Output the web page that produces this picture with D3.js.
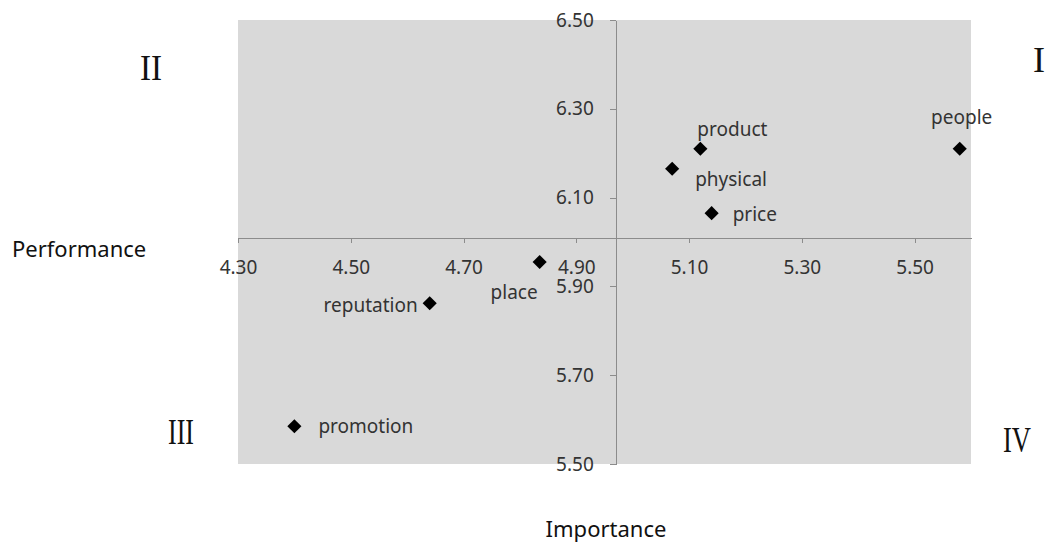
<!DOCTYPE html>
<html>

<head>
  <meta charset='utf-8'>
  <script type="text/javascript" src="https://cdn.jsdelivr.net/npm/d3@7"></script>
  <style type="text/css">
    body {
      margin: 0;
      background: #fff;
    }

    text {
      font-family: "Noto Sans", sans-serif;
      fill: #333;
    }

    .axis path,
    .axis line {
      stroke: #8c8c8c;
      shape-rendering: crispEdges;
    }

    .roman {
      font-family: "Liberation Serif", "DejaVu Serif", serif;
      fill: #111;
    }
  </style>
</head>

<body>
</body>

<script type="text/javascript">
  let w = 1046;
  let h = 544;

  // data
  let names = ["people", "product", "physical", "price", "place", "reputation", "promotion"];
  let importance = [5.58, 5.12, 5.07, 5.14, 4.835, 4.64, 4.40];
  let performance = [6.21, 6.21, 6.165, 6.065, 5.955, 5.862, 5.585];
  let xTicks = [4.30, 4.50, 4.70, 4.90, 5.10, 5.30, 5.50];
  let yTicks = [5.50, 5.70, 5.90, 6.10, 6.30, 6.50];
  let quadrants = ["I", "II", "III", "IV"];

  // where the axes cross
  let xCross = 4.97;
  let yCross = 6.01;

  // label placement next to each marker [dx, dy, anchor]
  let labelPos = {
    people: [2, -31, "middle"],
    product: [-3, -19, "start"],
    physical: [23, 11, "start"],
    price: [21, 1, "start"],
    place: [-2, 30, "end"],
    reputation: [-12, 2, "end"],
    promotion: [24, 0, "start"]
  };

  // quadrant numeral placement [cx, cy, width]
  let quadPos = {
    I: [1039, 60, 12],
    II: [151, 68, 22],
    III: [181, 432, 26],
    IV: [1017, 440, 28]
  };

  let x = d3.scaleLinear().domain([4.3, 5.6]).range([238, 971]);
  let y = d3.scaleLinear().domain([5.5, 6.5]).range([464, 20]);

  let svg = d3.select("body")
    .append("svg")
    .attr("width", w)
    .attr("height", h);

  // plot background
  svg.append("rect")
    .attr("x", x(4.3))
    .attr("y", y(6.5))
    .attr("width", x(5.6) - x(4.3))
    .attr("height", y(5.5) - y(6.5))
    .attr("fill", "#d9d9d9");

  // horizontal axis (importance)
  svg.append("g")
    .attr("class", "axis")
    .attr("transform", "translate(0," + y(yCross) + ")")
    .call(d3.axisBottom(x)
      .tickValues(xTicks)
      .tickFormat(d3.format(".2f"))
      .tickSize(5)
      .tickSizeOuter(0)
      .tickPadding(18));

  // vertical axis (performance)
  svg.append("g")
    .attr("class", "axis")
    .attr("transform", "translate(" + x(xCross) + ",0)")
    .call(d3.axisLeft(y)
      .tickValues(yTicks)
      .tickFormat(d3.format(".2f"))
      .tickSize(6)
      .tickSizeOuter(0)
      .tickPadding(16));

  svg.selectAll(".axis text")
    .style("font-family", "'Noto Sans', sans-serif")
    .style("font-size", "19px")
    .attr("fill", "#333");

  let pts = names.map((n, i) => ({ name: n, x: importance[i], y: performance[i] }));

  // markers
  svg.selectAll("path.mark")
    .data(pts)
    .enter()
    .append("path")
    .attr("class", "mark")
    .attr("d", d3.symbol(d3.symbolSquare, 100))
    .attr("transform", d => "translate(" + x(d.x) + "," + y(d.y) + ") rotate(45)")
    .attr("fill", "#000");

  // point labels
  svg.selectAll("text.lbl")
    .data(pts)
    .enter()
    .append("text")
    .attr("class", "lbl")
    .attr("x", d => x(d.x) + labelPos[d.name][0])
    .attr("y", d => y(d.y) + labelPos[d.name][1])
    .attr("dy", "0.35em")
    .attr("text-anchor", d => labelPos[d.name][2])
    .style("font-size", "19px")
    .text(d => d.name);

  // axis titles
  svg.append("text")
    .attr("x", 12)
    .attr("y", 257)
    .style("font-size", "22px")
    .style("fill", "#111")
    .text("Performance");

  svg.append("text")
    .attr("x", 606)
    .attr("y", 537)
    .attr("text-anchor", "middle")
    .style("font-size", "22px")
    .style("fill", "#111")
    .text("Importance");

  // quadrant numerals
  svg.selectAll("text.roman")
    .data(quadrants)
    .enter()
    .append("text")
    .attr("class", "roman")
    .attr("x", d => quadPos[d][0] - quadPos[d][2] / 2)
    .attr("y", d => quadPos[d][1])
    .attr("dy", "0.33em")
    .attr("textLength", d => quadPos[d][2])
    .attr("lengthAdjust", "spacingAndGlyphs")
    .style("font-size", "36px")
    .text(d => d);

</script>

</html>
